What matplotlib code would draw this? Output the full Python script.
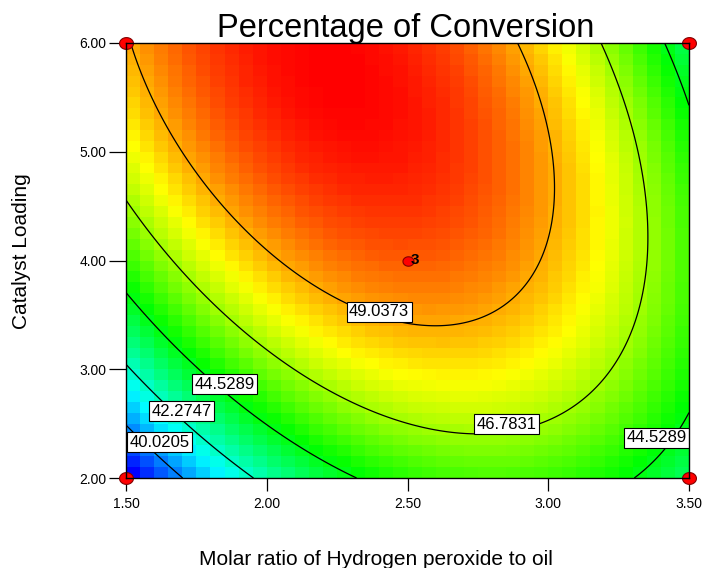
import numpy as np
import matplotlib
matplotlib.use('Agg')
import matplotlib.pyplot as plt
from matplotlib.colors import LinearSegmentedColormap
from matplotlib.path import Path

plt.rcParams['font.family'] = ['Liberation Sans', 'DejaVu Sans']

# quadratic response surface in coded units (A: molar ratio, B: catalyst loading)
# values estimated from the contour lines of the original figure
b0 = 50.0142
bA = 0.0733
bB = 2.7972
bAB = -2.7686
bAA = -4.5485
bBB = -2.0252

x_range = [1.5, 3.5]
y_range = [2.0, 6.0]
levels = [40.0205, 42.2747, 44.5289, 46.7831, 49.0373]

# design points (factorial corners + centre point with 3 replicates)
design_x = [1.5, 1.5, 3.5, 3.5]
design_y = [2.0, 6.0, 2.0, 6.0]
center_x = [2.5]
center_y = [4.0]
center_reps = ['3']

# where the contour labels sit (level, x, y)
label_levels = [49.0373, 46.7831, 44.5289, 44.5289, 42.2747, 40.0205]
label_x = [2.399, 2.852, 1.850, 3.386, 1.697, 1.619]
label_y = [3.531, 2.492, 2.864, 2.368, 2.616, 2.331]

x_ticks = [1.5, 2.0, 2.5, 3.0, 3.5]
y_ticks = [2.0, 3.0, 4.0, 5.0, 6.0]


def response(x, y):
    a = (x - 2.5) / 1.0
    b = (y - 4.0) / 2.0
    return b0 + bA*a + bB*b + bAB*a*b + bAA*a**2 + bBB*b**2


fig = plt.figure(figsize=(7.07, 5.68), dpi=100)
ax = fig.add_axes([126/707, 1 - 478/568, 563/707, 435/568])

# coloured 40x40 blocks like Design-Expert
n = 40
xe = np.linspace(x_range[0], x_range[1], n + 1)
ye = np.linspace(y_range[0], y_range[1], n + 1)
xc = 0.5 * (xe[:-1] + xe[1:])
yc = 0.5 * (ye[:-1] + ye[1:])
Zc = response(*np.meshgrid(xc, yc))
cmap = LinearSegmentedColormap.from_list(
    'dx', ['#0000ff', '#00ffff', '#00ff00', '#ffff00', '#ff0000'])
ax.pcolormesh(xe, ye, Zc, cmap=cmap, shading='flat',
              vmin=Zc.min(), vmax=Zc.max())

# contour lines
xf = np.linspace(x_range[0], x_range[1], 300)
yf = np.linspace(y_range[0], y_range[1], 300)
XF, YF = np.meshgrid(xf, yf)
ax.contour(XF, YF, response(XF, YF), levels=levels, colors='black',
           linewidths=0.9)

for lv, lx, ly in zip(label_levels, label_x, label_y):
    ax.text(lx, ly, '%.4f' % lv, ha='center', va='center', fontsize=12,
            zorder=5, clip_on=True,
            bbox=dict(boxstyle='square,pad=0.15', fc='white', ec='black', lw=0.8))

# design point markers (slightly flattened circles)
t = np.linspace(0, 2*np.pi, 40)
ell = Path(np.column_stack([np.cos(t), 0.85*np.sin(t)]), closed=True)
ax.plot(design_x, design_y, linestyle='none', marker=ell, markersize=10,
        mfc='red', mec='#800000', mew=0.8, clip_on=False, zorder=6)
ax.plot(center_x, center_y, linestyle='none', marker=ell, markersize=8,
        mfc='red', mec='#800000', mew=0.8, clip_on=False, zorder=6)
for cx, cy, lab in zip(center_x, center_y, center_reps):
    ax.annotate(lab, (cx, cy), xytext=(2.5, 0), textcoords='offset points',
                ha='left', va='center', fontsize=11, fontweight='bold', zorder=7)

ax.set_xlim(x_range)
ax.set_ylim(y_range)
ax.set_xticks(x_ticks)
ax.set_yticks(y_ticks)
ax.set_xticklabels(['%.2f' % v for v in x_ticks])
ax.set_yticklabels(['%.2f' % v for v in y_ticks])
ax.tick_params(axis='x', direction='out', length=9, width=0.9, pad=5, labelsize=10)
ax.tick_params(axis='y', direction='out', length=12, width=0.9, pad=2, labelsize=10)
for s in ax.spines.values():
    s.set_linewidth(1.0)
    s.set_zorder(8)

fig.text(406/707, 1 - 37/568, 'Percentage of Conversion', ha='center',
         va='baseline', fontsize=23.5)
fig.text(376/707, 1 - 565/568, 'Molar ratio of Hydrogen peroxide to oil',
         ha='center', va='baseline', fontsize=15)
fig.text(22/707, 1 - 251/568, 'Catalyst Loading', ha='center', va='center',
         rotation=90, fontsize=15)

fig.savefig('out.png', dpi=100)
